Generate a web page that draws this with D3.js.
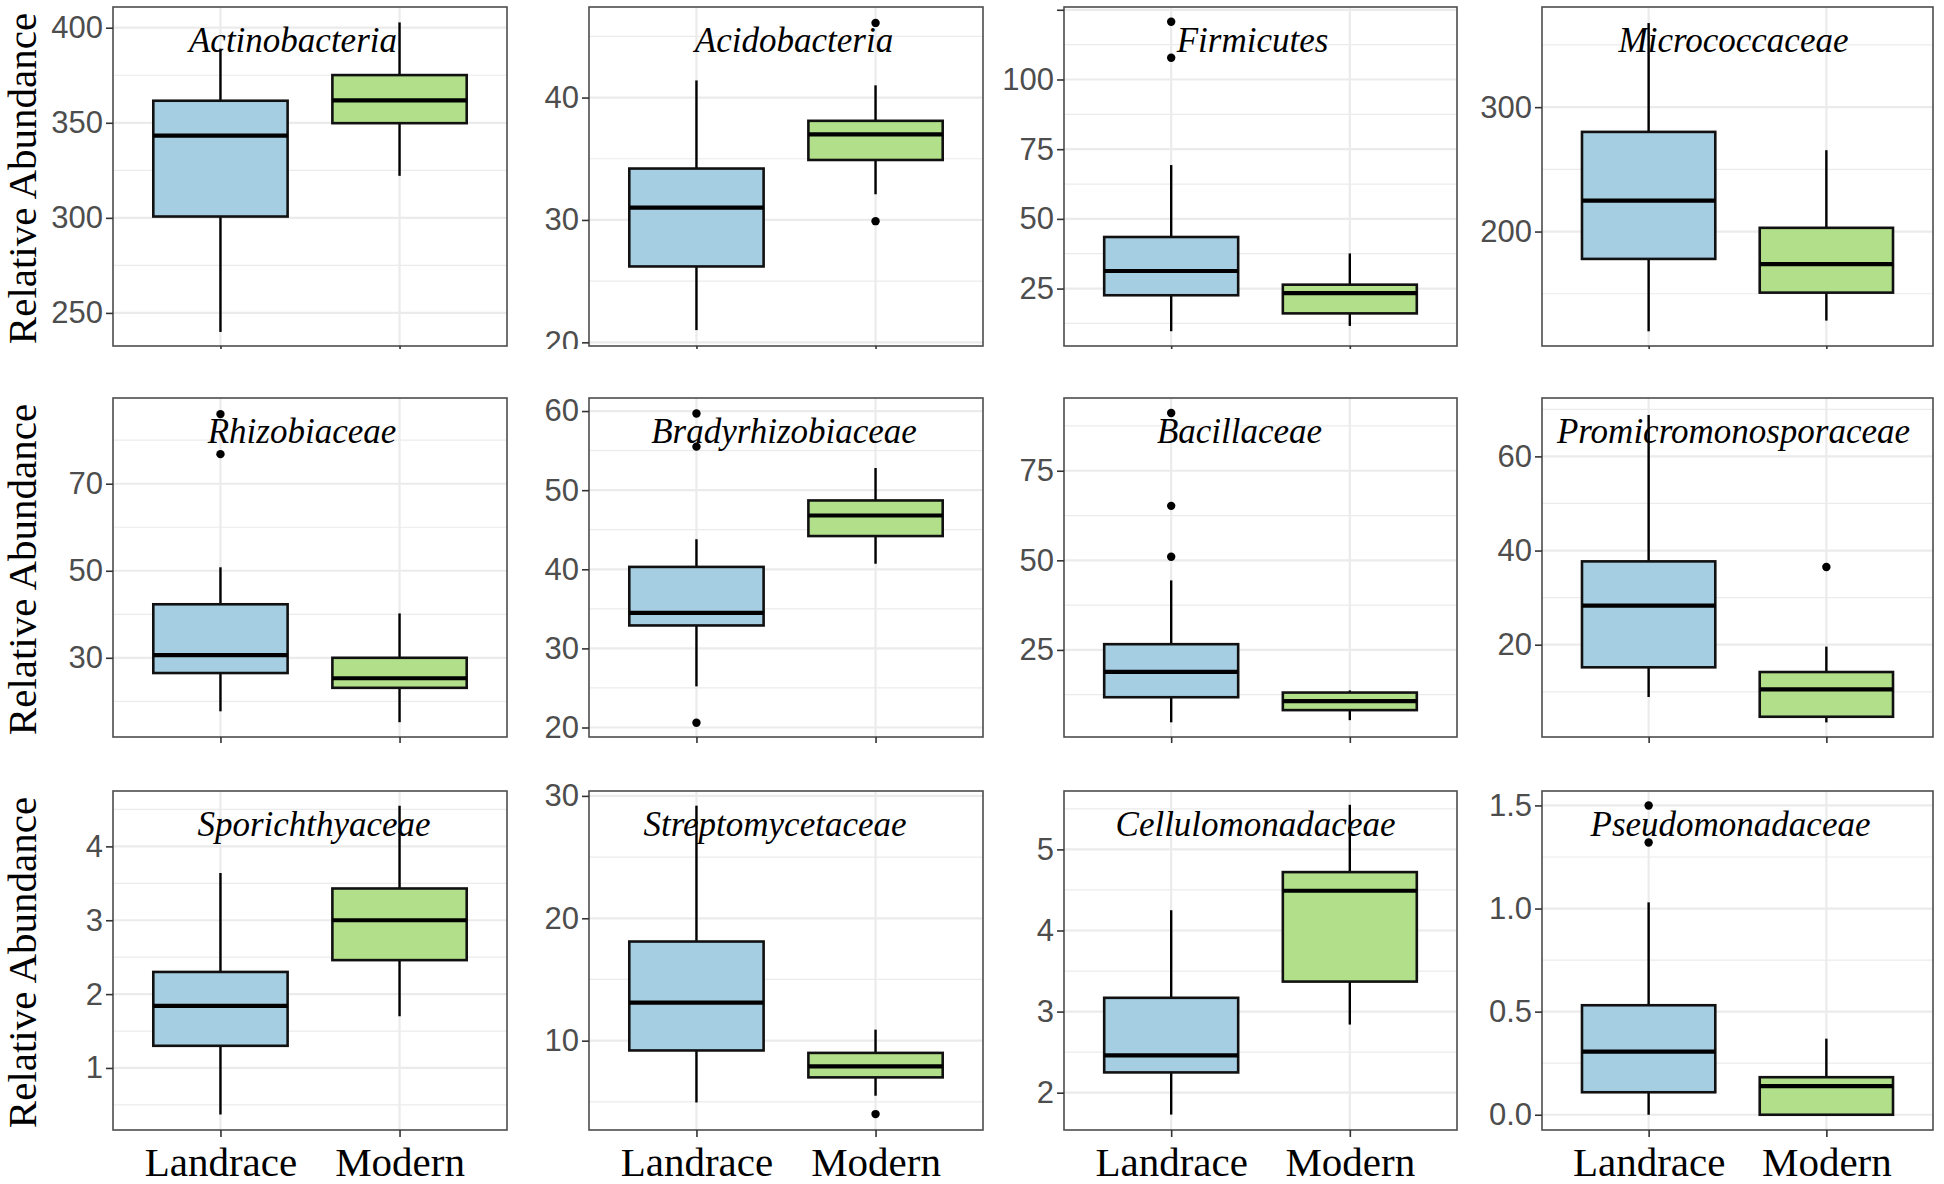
<!DOCTYPE html>
<html>
<head>
<meta charset="utf-8">
<script src="https://cdn.jsdelivr.net/npm/d3@7"></script>
<style>
  html, body { margin: 0; padding: 0; background: #ffffff; }
  svg { display: block; }
</style>
</head>
<body>
<svg id="chart" width="1944" height="1184"></svg>
<script>
// ---------------- DATA ----------------
const families = [
  "Actinobacteria", "Acidobacteria", "Firmicutes", "Micrococcaceae",
  "Rhizobiaceae", "Bradyrhizobiaceae", "Bacillaceae", "Promicromonosporaceae",
  "Sporichthyaceae", "Streptomycetaceae", "Cellulomonadaceae", "Pseudomonadaceae"
];
const groups = ["Landrace", "Modern"];

// [lower whisker, Q1, median, Q3, upper whisker]
const landraceStats = [
  [240, 300.7, 343.2, 361.6, 389],
  [21.0, 26.2, 31.0, 34.2, 41.4],
  [9.7, 22.6, 31.3, 43.5, 69.3],
  [119.8, 178.0, 224.9, 280.1, 367.6],
  [17.7, 26.5, 30.6, 42.3, 50.8],
  [25.2, 32.9, 34.5, 40.3, 43.8],
  [4.8, 11.8, 18.9, 26.6, 44.4],
  [8.9, 15.2, 28.3, 37.7, 68.8],
  [0.37, 1.30, 1.84, 2.30, 3.64],
  [4.95, 9.2, 13.1, 18.1, 29.2],
  [1.73, 2.25, 2.46, 3.17, 4.25],
  [0.0, 0.109, 0.306, 0.531, 1.03]
];
const modernStats = [
  [322.1, 349.8, 361.8, 375.1, 402.8],
  [32.1, 34.9, 37.0, 38.1, 41.0],
  [11.6, 16.1, 23.4, 26.4, 37.6],
  [128.4, 150.9, 173.8, 203.0, 265.4],
  [15.2, 23.1, 25.3, 30.0, 40.2],
  [40.7, 44.2, 46.8, 48.7, 52.8],
  [5.4, 8.2, 10.7, 13.1, 13.7],
  [3.5, 4.7, 10.5, 14.2, 19.6],
  [1.70, 2.46, 3.00, 3.43, 4.55],
  [5.5, 7.0, 7.9, 9.0, 10.9],
  [2.84, 3.37, 4.49, 4.72, 5.55],
  [0.0, 0.0, 0.139, 0.182, 0.369]
];
const landraceOutliers = [
  [], [], [120.7, 107.8], [],
  [86.0, 76.8], [59.7, 55.5, 20.6], [91.1, 65.2, 51.0], [],
  [], [], [], [1.50, 1.32]
];
const modernOutliers = [
  [], [46.1, 29.9], [], [],
  [], [], [], [36.5],
  [], [4.0], [], []
];

const yDomains = [
  [232.6, 410.9], [19.7, 47.4], [4.4, 126.0], [108.0, 380.5],
  [11.8, 89.7], [18.8, 61.65], [0.7, 95.3], [0.4, 72.4],
  [0.16, 4.75], [2.7, 30.4], [1.54, 5.72], [-0.074, 1.57]
];
const yTicks = [
  [250, 300, 350, 400], [20, 30, 40], [25, 50, 75, 100, 125], [200, 300],
  [30, 50, 70], [20, 30, 40, 50, 60], [25, 50, 75], [20, 40, 60],
  [1, 2, 3, 4], [10, 20, 30], [2, 3, 4, 5], [0, 0.5, 1.0, 1.5]
];
const yTickLabels = [
  ["250", "300", "350", "400"], ["20", "30", "40"], ["25", "50", "75", "100", ""], ["200", "300"],
  ["30", "50", "70"], ["20", "30", "40", "50", "60"], ["25", "50", "75"], ["20", "40", "60"],
  ["1", "2", "3", "4"], ["10", "20", "30"], ["2", "3", "4", "5"], ["0.0", "0.5", "1.0", "1.5"]
];
const yTitle = "Relative Abundance";

// ---------------- LAYOUT / STYLE ----------------
const colLeft = [113, 589, 1064, 1542];
const colRight = [507, 983, 1457, 1933];
const rowTop = [7, 398, 791];
const rowBottom = [346, 737, 1130];
const rowClip = [349, 743, 1184];
const titleDx = [-17, 8, -8, -4, -8, -2, -21, -4, 4, -11, -5, -7];
const fills = { Landrace: "#A6CEE3", Modern: "#B2DF8A" };
const serif = "'Liberation Serif', 'Times New Roman', Times, serif";
const sans = "'Liberation Sans', Arial, Helvetica, sans-serif";

const svg = d3.select("#chart");
const defs = svg.append("defs");

families.forEach((fam, i) => {
  const r = Math.floor(i / 4), c = i % 4;
  const L = colLeft[c], R = colRight[c], T = rowTop[r], B = rowBottom[r];

  const clipId = "clip" + i;
  defs.append("clipPath").attr("id", clipId)
    .append("rect").attr("x", L - 120).attr("y", T - 10)
    .attr("width", R - L + 130).attr("height", rowClip[r] - T + 10);

  const g = svg.append("g").attr("clip-path", `url(#${clipId})`);

  const x = d3.scalePoint().domain(groups).range([L, R]).padding(0.6);
  const y = d3.scaleLinear().domain(yDomains[i]).range([B, T]);
  const bw = x.step() * 0.75;

  // grid: minor lines
  const ticks = yTicks[i];
  const half = ticks.length > 1 ? (ticks[1] - ticks[0]) / 2 : 50;
  const minors = [];
  for (let k = 0; k < ticks.length; k++) {
    minors.push(ticks[k] - half);
  }
  minors.push(ticks[ticks.length - 1] + half);
  const [d0, d1] = yDomains[i];
  g.selectAll(".minor").data(minors.filter(v => v > d0 && v < d1)).join("line")
    .attr("x1", L).attr("x2", R)
    .attr("y1", d => y(d)).attr("y2", d => y(d))
    .attr("stroke", "#EBEBEB").attr("stroke-width", 1.2);
  g.selectAll(".major").data(ticks.filter(v => v >= d0 && v <= d1)).join("line")
    .attr("x1", L).attr("x2", R)
    .attr("y1", d => y(d)).attr("y2", d => y(d))
    .attr("stroke", "#EBEBEB").attr("stroke-width", 2.2);
  g.selectAll(".vmajor").data(groups).join("line")
    .attr("x1", d => x(d)).attr("x2", d => x(d))
    .attr("y1", T).attr("y2", B)
    .attr("stroke", "#EBEBEB").attr("stroke-width", 2.2);

  // boxes
  const stats = [landraceStats[i], modernStats[i]];
  const outs = [landraceOutliers[i], modernOutliers[i]];
  groups.forEach((grp, j) => {
    const s = stats[j];
    const cx = x(grp);
    g.append("line").attr("x1", cx).attr("x2", cx)
      .attr("y1", y(s[0])).attr("y2", y(s[1]))
      .attr("stroke", "#000").attr("stroke-width", 2.4);
    g.append("line").attr("x1", cx).attr("x2", cx)
      .attr("y1", y(s[3])).attr("y2", y(s[4]))
      .attr("stroke", "#000").attr("stroke-width", 2.4);
    g.append("rect")
      .attr("x", cx - bw / 2).attr("width", bw)
      .attr("y", y(s[3])).attr("height", Math.max(0, y(s[1]) - y(s[3])))
      .attr("fill", fills[grp]).attr("stroke", "#111").attr("stroke-width", 2.6);
    g.append("line").attr("x1", cx - bw / 2).attr("x2", cx + bw / 2)
      .attr("y1", y(s[2])).attr("y2", y(s[2]))
      .attr("stroke", "#000").attr("stroke-width", 4.2);
    g.selectAll(".out" + j).data(outs[j]).join("circle")
      .attr("cx", cx).attr("cy", d => y(d)).attr("r", 4.2).attr("fill", "#000");
  });

  // panel border
  g.append("rect").attr("x", L).attr("y", T).attr("width", R - L).attr("height", B - T)
    .attr("fill", "none").attr("stroke", "#4D4D4D").attr("stroke-width", 1.6);

  // title
  g.append("text")
    .attr("x", (L + R) / 2 + titleDx[i]).attr("y", T + 45)
    .attr("text-anchor", "middle")
    .style("font-family", serif).style("font-style", "italic").style("font-size", "35px")
    .attr("fill", "#000").text(fam);

  // y axis
  const labels = yTickLabels[i];
  const yAxis = d3.axisLeft(y).tickValues(ticks).tickSize(7).tickPadding(3)
    .tickFormat((d, k) => labels[k]);
  const ga = g.append("g").attr("transform", `translate(${L},0)`).call(yAxis);
  ga.select(".domain").remove();
  ga.selectAll(".tick line").attr("stroke", "#333").attr("stroke-width", 1.6);
  ga.selectAll(".tick text").attr("fill", "#4D4D4D")
    .style("font-family", sans).style("font-size", "31px");

  // x axis ticks
  const xAxis = d3.axisBottom(x).tickSize(7).tickFormat(d => r === 2 ? d : "");
  const gx = g.append("g").attr("transform", `translate(0,${B})`).call(xAxis);
  gx.select(".domain").remove();
  gx.selectAll(".tick line").attr("stroke", "#333").attr("stroke-width", 1.6);
  gx.selectAll(".tick text").attr("fill", "#000").attr("dy", 0).attr("y", 46)
    .style("font-family", serif).style("font-size", "41px");
});

// y titles
rowTop.forEach((t, r) => {
  const cy = (t + rowBottom[r]) / 2 + 2;
  svg.append("text")
    .attr("transform", `translate(36,${cy}) rotate(-90)`)
    .attr("text-anchor", "middle")
    .style("font-family", serif).style("font-size", "41px")
    .attr("fill", "#000").text(yTitle);
});
</script>
</body>
</html>
